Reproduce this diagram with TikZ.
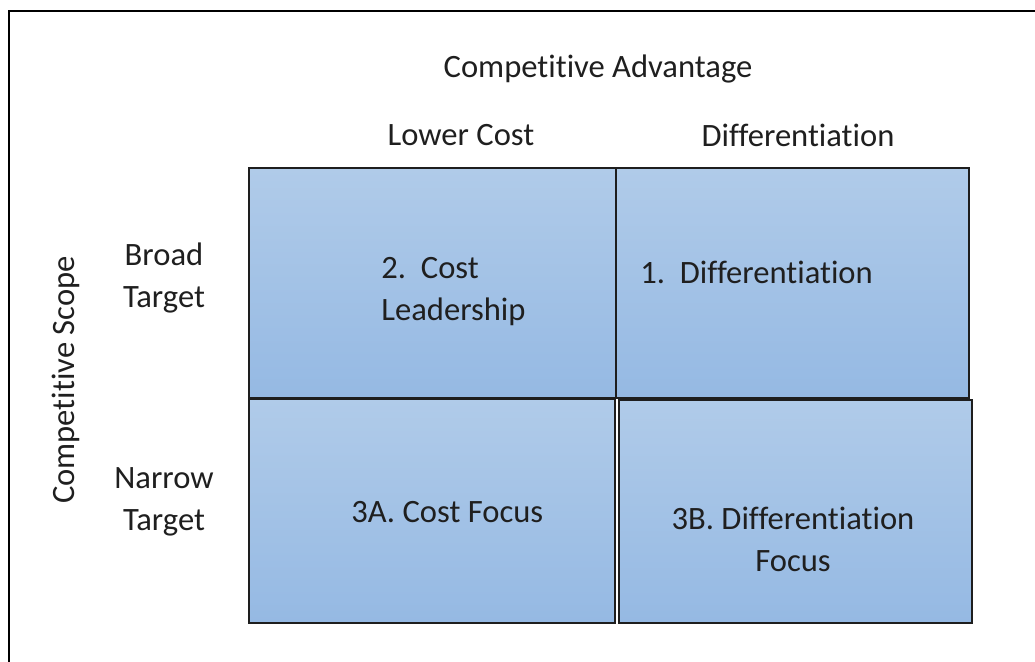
\documentclass[tikz,border=0pt]{standalone}
\usepackage{fontspec}
\setmainfont{Carlito}[RawFeature={-liga}]
\usepackage{tikz}

\definecolor{celltop}{RGB}{176,203,233}
\definecolor{cellbot}{RGB}{149,185,227}
\definecolor{celledge}{RGB}{30,30,30}

\begin{document}
\begin{tikzpicture}[x=0.5pt,y=-0.5pt,
	every node/.style={font=\fontsize{16.3}{21}\selectfont, inner sep=0pt, text=black!88},
	cell/.style={draw=celledge, line width=1.3pt, top color=celltop, bottom color=cellbot, outer sep=0pt}]
	\useasboundingbox (0,0) rectangle (1035,662);
	\draw[line width=1.4pt] (9,662) -- (9,11) -- (1035,11);
	
	% the four boxes
	\node[cell, minimum width=183.5pt, minimum height=115pt] (cl) at (432.5,283) {};
	\node[cell, minimum width=176.5pt, minimum height=115pt] (df) at (792.5,283) {};
	\node[cell, minimum width=183pt, minimum height=112pt] (cf) at (432,511) {};
	\node[cell, minimum width=176.5pt, minimum height=111.5pt] (dff) at (795.5,511.5) {};
	
	% headings
	\node (adv) at (598,69) {Competitive Advantage};
	\node (low) at (461,135) {Lower Cost};
	\node (dif) at (798,135) {Differentiation};
	\node[align=center] (broad) at (164,278) {Broad\\Target};
	\node[align=center] (narrow) at (164,502) {Narrow\\Target};
	\node[rotate=90] (scope) at (66,380) {Competitive Scope};
	
	% box texts
	\node[align=left, anchor=west] (t2) at (381,292) {2.\ \ Cost\\Leadership};
	\node[anchor=west] (t1) at (640,272) {1.\ \ Differentiation};
	\node[anchor=west] (t3a) at (351,512) {3A. Cost Focus};
	\node[align=center] (t3b) at (793,539.5) {3B. Differentiation\\Focus};
\end{tikzpicture}
\end{document}
